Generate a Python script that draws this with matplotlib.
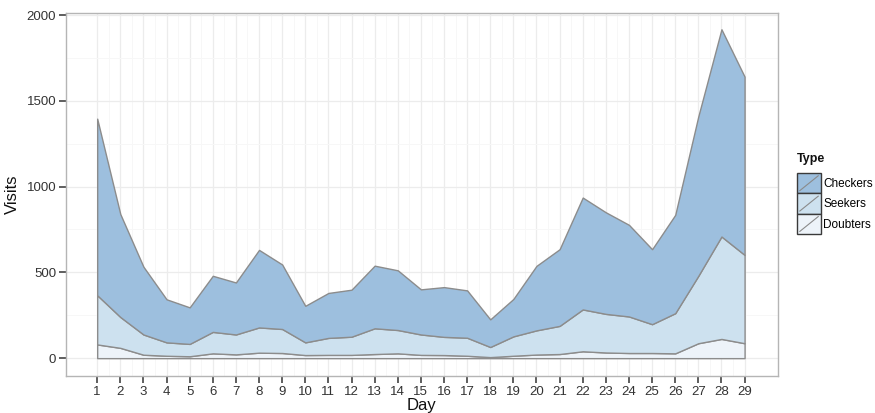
#Stacked area chart of visits per day by visitor type

import matplotlib
matplotlib.use("Agg")
import matplotlib.pyplot as plt
from matplotlib.patches import Rectangle, Patch
from matplotlib.lines import Line2D
from matplotlib.legend_handler import HandlerBase
import numpy as np

plt.rcParams['font.family'] = ['Liberation Sans', 'DejaVu Sans']

days = list(range(1, 30))
doubters = [80, 60, 20, 14, 11, 28, 22, 32, 30, 18, 19, 19, 24, 28, 19,
            18, 14, 6, 14, 21, 24, 40, 33, 30, 30, 28, 87, 112, 87]
seekers = [287, 180, 118, 78, 72, 125, 116, 147, 140, 74, 99, 106, 150, 136, 119,
           106, 105, 59, 113, 141, 164, 244, 225, 213, 168, 234, 393, 597, 515]
checkers = [1029, 600, 395, 251, 213, 327, 303, 452, 376, 213, 262, 274, 365, 348, 263,
            290, 276, 161, 218, 376, 447, 652, 592, 534, 437, 573, 930, 1208, 1039]

types = ['Checkers', 'Seekers', 'Doubters']
colors = {'Checkers': '#9dbfde', 'Seekers': '#cde1ef', 'Doubters': '#edf3f9'}


class AreaKey(HandlerBase):
    # ggplot style key: filled box with a thin diagonal stroke
    def create_artists(self, legend, orig, xd, yd, w, h, fontsize, trans):
        box = Rectangle((-xd, -yd), w, h, facecolor=orig.get_facecolor(),
                        edgecolor='#3a3a3a', lw=1.0, transform=trans)
        slash = Line2D([-xd + 2, -xd + w - 2], [-yd + 2, -yd + h - 2],
                       color='#8a8a8a', lw=0.8, transform=trans)
        return [box, slash]


fig = plt.figure(figsize=(8.75, 4.13), dpi=100)
ax = fig.add_axes([0.0754, 0.0896, 0.8136, 0.879])

x = np.array(days)
d = np.array(doubters)
s = d + np.array(seekers)
c = s + np.array(checkers)

ax.fill_between(x, 0, d, facecolor=colors['Doubters'], edgecolor='#8c8c8c', lw=1.0, zorder=3)
ax.fill_between(x, d, s, facecolor=colors['Seekers'], edgecolor='#8c8c8c', lw=1.0, zorder=3)
ax.fill_between(x, s, c, facecolor=colors['Checkers'], edgecolor='#8c8c8c', lw=1.0, zorder=3)

ax.set_xlim(-0.35, 30.44)
ax.set_ylim(-104, 2012)
ax.set_xticks(days)
ax.set_xticks(np.arange(1.5, 29, 1), minor=True)
ax.set_yticks([0, 500, 1000, 1500, 2000])
ax.set_yticks([250, 750, 1250, 1750], minor=True)

ax.grid(which='major', color='#ececec', lw=0.9, zorder=0)
ax.grid(which='minor', color='#f7f7f7', lw=0.7, zorder=0)
ax.set_axisbelow(True)

for sp in ax.spines.values():
    sp.set_color('#b5b5b5')
    sp.set_linewidth(1.0)

ax.tick_params(which='major', length=5, width=1.1, color='#333333',
               labelsize=9.5, labelcolor='#333333', pad=2)
ax.tick_params(which='minor', length=0)

ax.set_xlabel('Day', fontsize=12, color='#111111', labelpad=0)
ax.set_ylabel('Visits', fontsize=12, color='#111111', labelpad=5)

# legend title as its own text so the gap above the keys matches
fig.text(797 / 875, 1 - 153 / 413, 'Type', fontsize=9, fontweight='bold',
         ha='left', va='top', color='#111111')

handles = [Patch(facecolor=colors[t]) for t in types]
leg = fig.legend(handles, types, loc='upper left',
                 bbox_to_anchor=(0.9055, 0.5925), frameon=False,
                 handler_map={Patch: AreaKey()}, fontsize=8.5,
                 handlelength=2.03, handleheight=2.28, labelspacing=0,
                 handletextpad=0.2, borderpad=0.4, borderaxespad=0)

fig.savefig('out.png', dpi=100)
